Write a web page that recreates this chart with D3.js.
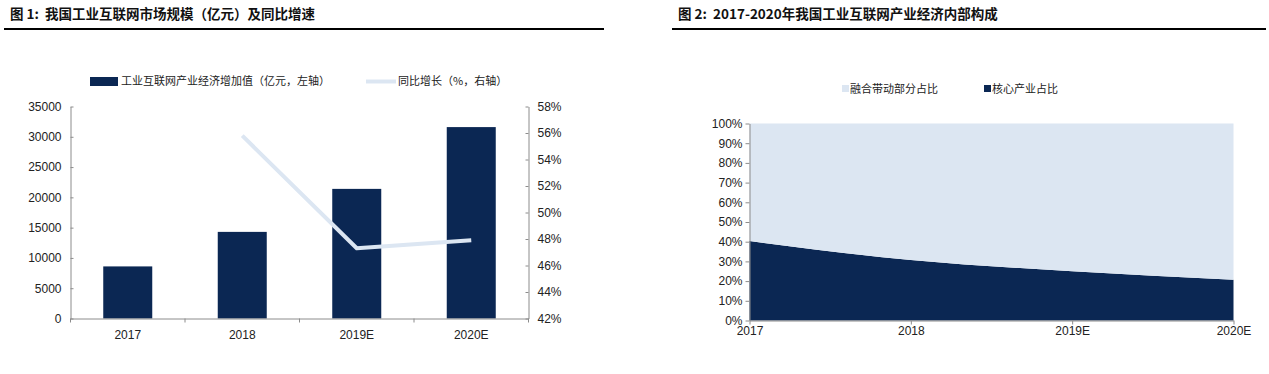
<!DOCTYPE html>
<html lang="zh">
  <head>
    <meta charset="UTF-8" />
    <script src="https://d3js.org/d3.v7.min.js"></script>
    <style>
      body { margin: 0; background: #fff; }
      text { font-family: "Liberation Sans", Arial, "Noto Sans CJK SC", sans-serif; }
      .cjk { font-family: "Noto Sans CJK SC", sans-serif; }
    </style>
  </head>
  <body>
    <div id="chart"></div>
    <script>
      // data
      const years = ["2017", "2018", "2019E", "2020E"];
      const valueAdded = [8600, 14300, 21400, 31600]; // 亿元, left axis
      const growth = [null, 55.8, 47.3, 47.9]; // %, right axis
      const leftTicks = [0, 5000, 10000, 15000, 20000, 25000, 30000, 35000];
      const rightTicks = [42, 44, 46, 48, 50, 52, 54, 56, 58];
      const coreShare = [40.3, 30.7, 25.0, 20.7]; // 核心产业占比
      const fusionShare = coreShare.map((d) => 100 - d); // 融合带动部分占比
      const shareTicks = [0, 10, 20, 30, 40, 50, 60, 70, 80, 90, 100];

      const dark = "#0b2753";
      const light = "#dce6f2";
      const axisColor = "#8c8c8c";

      const svg = d3
        .select("#chart")
        .append("svg")
        .attr("width", 1269)
        .attr("height", 374);

      // ---------- titles ----------
      function title(x, x0, x1, label) {
        svg
          .append("text")
          .attr("class", "cjk")
          .attr("x", x)
          .attr("y", 19)
          .style("font-size", "13.5px")
          .style("font-weight", "bold")
          .style("white-space", "pre")
          .attr("fill", "#111")
          .text(label);
        svg
          .append("line")
          .attr("x1", x0)
          .attr("x2", x1)
          .attr("y1", 29)
          .attr("y2", 29)
          .attr("stroke", "#000")
          .attr("stroke-width", 2);
      }
      title(10, 4, 604, "图 1:  我国工业互联网市场规模（亿元）及同比增速");
      title(678, 672, 1266, "图 2:  2017-2020年我国工业互联网产业经济内部构成");

      // ---------- chart 1 ----------
      const c1 = { left: 70.5, right: 528.5, top: 106.5, bottom: 318.5 };

      const x = d3
        .scaleBand()
        .domain(years)
        .range([c1.left, c1.right])
        .padding(0);
      const yL = d3.scaleLinear().domain([0, 35000]).range([c1.bottom, c1.top]);
      const yR = d3.scaleLinear().domain([42, 58]).range([c1.bottom, c1.top]);
      const barW = 49;

      const g1 = svg.append("g");

      g1.selectAll("rect.bar")
        .data(years)
        .join("rect")
        .attr("class", "bar")
        .attr("x", (d) => x(d) + x.bandwidth() / 2 - barW / 2)
        .attr("y", (d, i) => yL(valueAdded[i]))
        .attr("width", barW)
        .attr("height", (d, i) => yL(0) - yL(valueAdded[i]))
        .attr("fill", dark);

      const lineData = years
        .map((d, i) => ({ year: d, v: growth[i] }))
        .filter((d) => d.v !== null);
      g1.append("path")
        .datum(lineData)
        .attr("fill", "none")
        .attr("stroke", light)
        .attr("stroke-width", 4)
        .attr("stroke-linejoin", "round")
        .attr(
          "d",
          d3
            .line()
            .x((d) => x(d.year) + x.bandwidth() / 2)
            .y((d) => yR(d.v))
        );

      // left axis, ticks inward
      const axL = g1
        .append("g")
        .attr("transform", `translate(${c1.left},0)`)
        .call(d3.axisRight(yL).tickValues(leftTicks).tickSize(3).tickSizeOuter(0).tickFormat(d3.format("d")));
      axL.selectAll("text")
        .attr("x", -9)
        .attr("text-anchor", "end");
      // right axis, ticks inward
      const axR = g1
        .append("g")
        .attr("transform", `translate(${c1.right},0)`)
        .call(d3.axisLeft(yR).tickValues(rightTicks).tickSize(3).tickSizeOuter(0).tickFormat((d) => d + "%"));
      axR.selectAll("text")
        .attr("x", 9)
        .attr("text-anchor", "start");
      // bottom axis with ticks between categories
      const axB = g1
        .append("g")
        .attr("transform", `translate(0,${c1.bottom})`)
        .call(d3.axisBottom(x).tickSize(0).tickPadding(12));
      g1.append("g")
        .selectAll("line")
        .data(d3.range(years.length + 1))
        .join("line")
        .attr("x1", (i) => c1.left + i * x.step())
        .attr("x2", (i) => c1.left + i * x.step())
        .attr("y1", c1.bottom)
        .attr("y2", c1.bottom + 4)
        .attr("stroke", axisColor);

      [axL, axR, axB].forEach((a) => {
        a.selectAll("path, line").attr("stroke", axisColor);
        a.selectAll("text").style("font-size", "12px").attr("fill", "#222");
      });

      // legend 1
      g1.append("rect").attr("x", 90).attr("y", 77).attr("width", 28).attr("height", 9).attr("fill", dark);
      g1.append("text")
        .attr("class", "cjk")
        .attr("x", 121)
        .attr("y", 85)
        .style("font-size", "11px")
        .attr("fill", "#222")
        .text("工业互联网产业经济增加值（亿元，左轴）");
      g1.append("line")
        .attr("x1", 366).attr("x2", 396).attr("y1", 81.5).attr("y2", 81.5)
        .attr("stroke", light).attr("stroke-width", 4);
      g1.append("text")
        .attr("class", "cjk")
        .attr("x", 398)
        .attr("y", 85)
        .style("font-size", "11px")
        .attr("fill", "#222")
        .text("同比增长（%，右轴）");

      // ---------- chart 2 ----------
      const c2 = { left: 749.5, right: 1233.5, top: 123.5, bottom: 320.5 };
      const x2 = d3.scalePoint().domain(years).range([c2.left, c2.right]);
      const y2 = d3.scaleLinear().domain([0, 100]).range([c2.bottom, c2.top]);
      const g2 = svg.append("g");

      const stackData = years.map((d, i) => ({ year: d, core: coreShare[i], fusion: fusionShare[i] }));
      const series = d3.stack().keys(["core", "fusion"])(stackData);
      const area = d3
        .area()
        .x((d) => x2(d.data.year))
        .y0((d) => y2(d[0]))
        .y1((d) => y2(d[1]))
        .curve(d3.curveMonotoneX);
      g2.selectAll("path.layer")
        .data(series)
        .join("path")
        .attr("class", "layer")
        .attr("fill", (s) => (s.key === "core" ? dark : light))
        .attr("d", area);

      const ax2L = g2
        .append("g")
        .attr("transform", `translate(${c2.left},0)`)
        .call(d3.axisLeft(y2).tickValues(shareTicks).tickSize(4).tickSizeOuter(0).tickFormat((d) => d + "%"));
      const ax2B = g2
        .append("g")
        .attr("transform", `translate(0,${c2.bottom})`)
        .call(d3.axisBottom(x2).tickSize(4).tickSizeOuter(0).tickPadding(2));
      [ax2L, ax2B].forEach((a) => {
        a.selectAll("path, line").attr("stroke", axisColor);
        a.selectAll("text").style("font-size", "12px").attr("fill", "#222");
      });
      ax2L.selectAll("text").attr("x", -7);

      // legend 2
      const leg2 = [
        { label: "融合带动部分占比", color: light, x: 842 },
        { label: "核心产业占比", color: dark, x: 984 },
      ];
      leg2.forEach((l) => {
        g2.append("rect").attr("x", l.x).attr("y", 85).attr("width", 7).attr("height", 7).attr("fill", l.color);
        g2.append("text")
          .attr("class", "cjk")
          .attr("x", l.x + 8)
          .attr("y", 92.5)
          .style("font-size", "11px")
          .attr("fill", "#222")
          .text(l.label);
      });
    </script>
  </body>
</html>
